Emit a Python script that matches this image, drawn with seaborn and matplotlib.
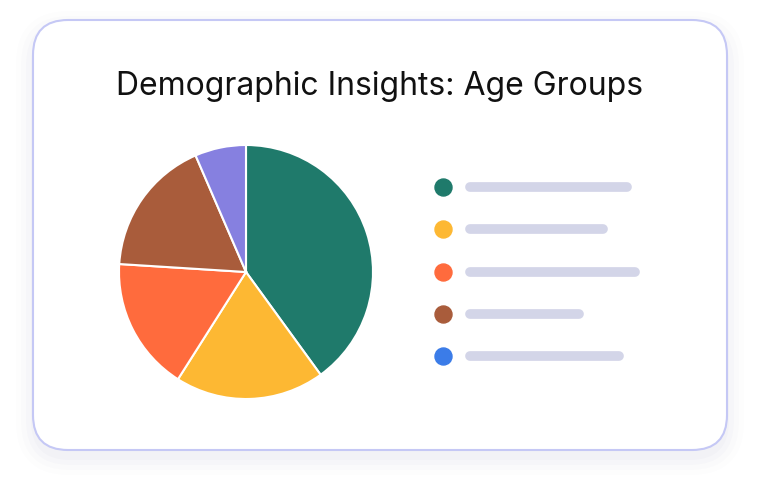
import matplotlib
matplotlib.use("Agg")
import matplotlib.pyplot as plt
import seaborn as sns
from matplotlib.patches import FancyBboxPatch

sns.set_theme(style="white")
plt.rcParams['font.family'] = ['Inter', 'DejaVu Sans']

title = "Demographic Insights: Age Groups"
values = [40, 19, 17, 17.5, 6.5]
pie_colors = ["#1F7A6B", "#FDB833", "#FF6B3D", "#A95C3B", "#8680E0"]
legend_colors = ["#1F7A6B", "#FDB833", "#FF6B3D", "#A95C3B", "#3B7CE8"]
legend_bar_ends = [627, 603, 635, 579, 619]

W, H = 760, 496
fig = plt.figure(figsize=(W/100, H/100), dpi=100)
bg = fig.add_axes([0, 0, 1, 1])
bg.set_xlim(0, W); bg.set_ylim(H, 0); bg.axis('off')

for i, a in enumerate([0.025, 0.02, 0.015, 0.01]):
    g = 4 + i*5
    bg.add_patch(FancyBboxPatch((33-g+2, 20-g+10), 694+2*g-4, 430+2*g-4,
                 boxstyle="round,pad=0,rounding_size=%d" % (35+g),
                 fc="#6060a0", ec="none", alpha=a))
bg.add_patch(FancyBboxPatch((33, 20), 694, 430, boxstyle="round,pad=0,rounding_size=35",
             fc="white", ec="#C5C8F5", lw=1.5))
bg.text(380, 87, title, ha='center', va='center', fontsize=23, color="#111111")

for i, (c, end) in enumerate(zip(legend_colors, legend_bar_ends)):
    y = 187 + i*42.25
    bg.scatter([443], [y], s=150, color=c, zorder=3)
    bg.plot([470, end], [y, y], color="#D3D5E8", lw=7, solid_capstyle='round')

cx, cy, r = 246, 272, 127
pax = fig.add_axes([(cx-r)/W, (H-cy-r)/H, 2*r/W, 2*r/H])
pax.pie(values, colors=pie_colors, startangle=90, counterclock=False,
        wedgeprops=dict(edgecolor="white", linewidth=1.5))
pax.set_xlim(-1, 1); pax.set_ylim(-1, 1)
pax.set_aspect('equal')
fig.savefig("out.png", dpi=100)
